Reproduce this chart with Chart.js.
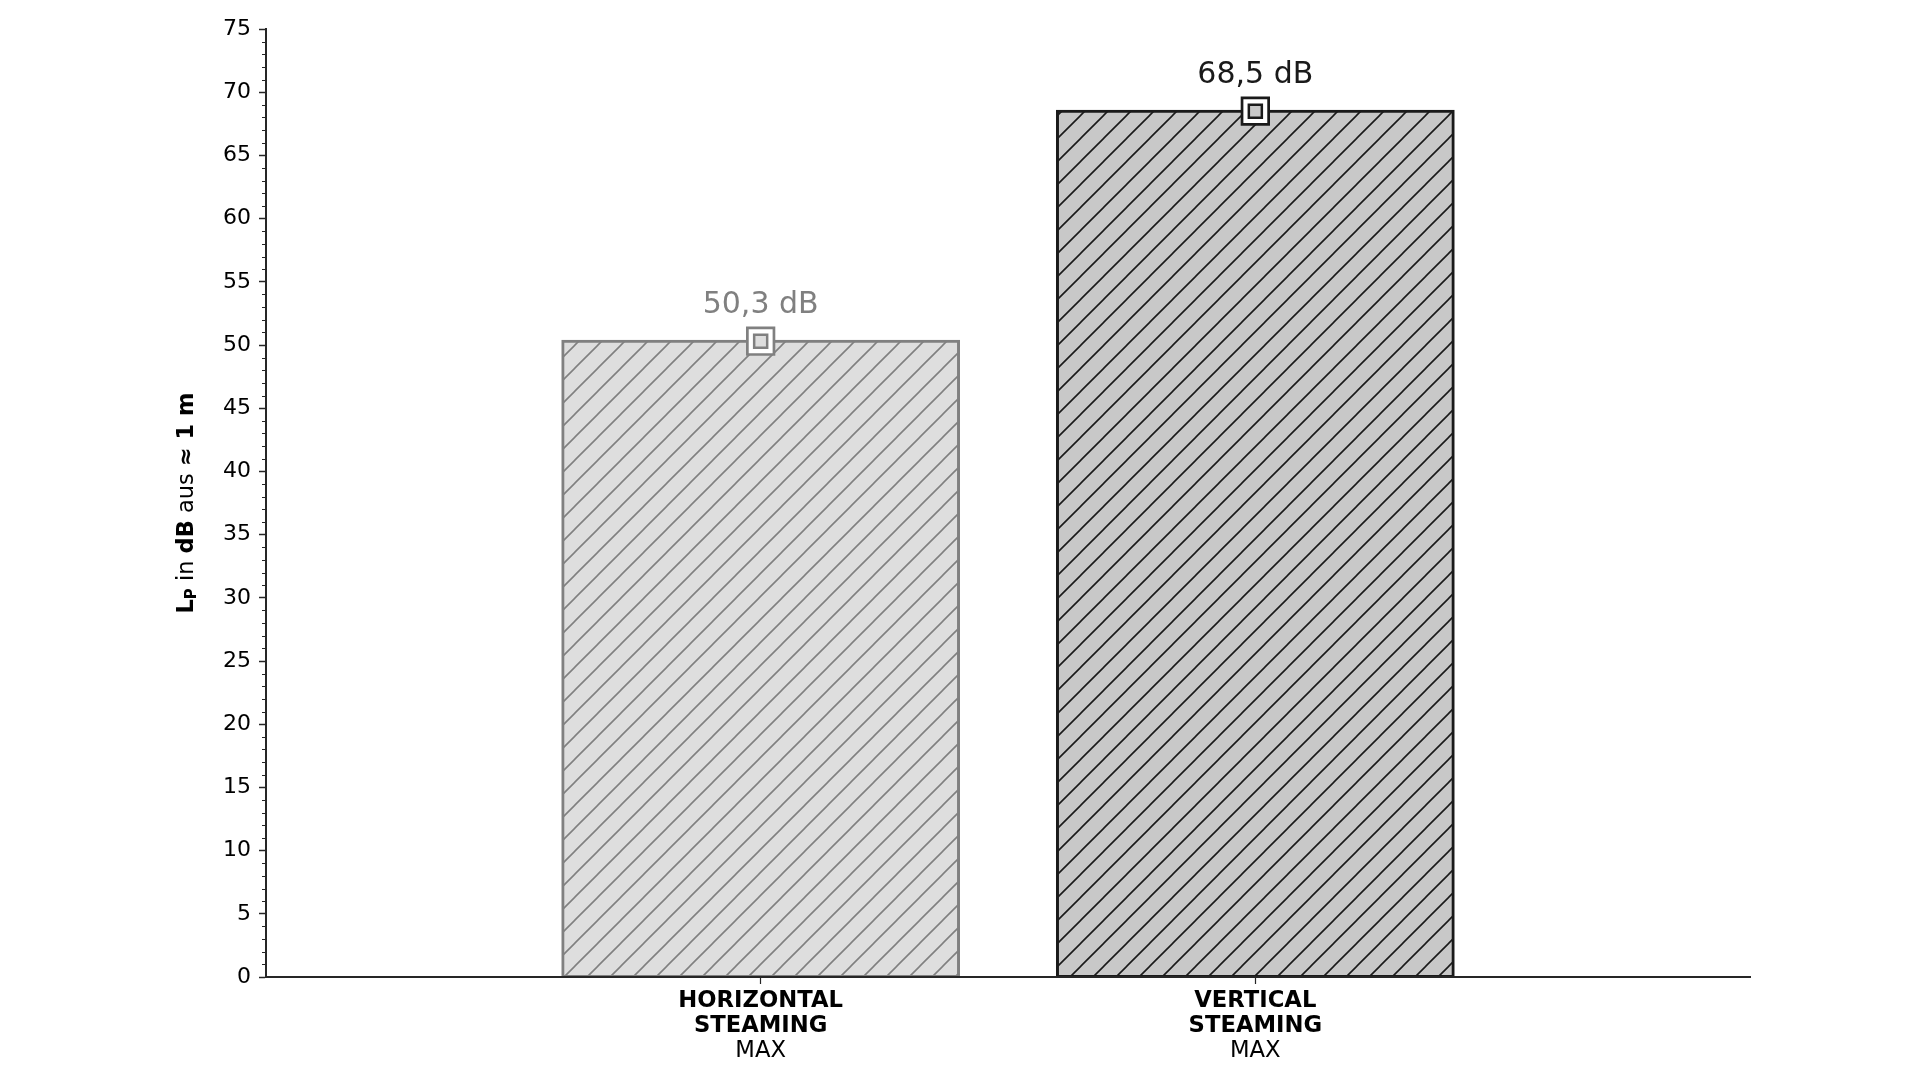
<!DOCTYPE html>
<html>
<head>
<meta charset="utf-8">
<style>
  html, body { margin: 0; padding: 0; background: #fff; }
  #chart { display: block; }
</style>
<script src="https://cdn.jsdelivr.net/npm/chart.js@4.4.1/dist/chart.umd.min.js"></script>
</head>
<body>
<canvas id="chart" width="1920" height="1080"></canvas>
<script>
'use strict';

// data
var categories = [['HORIZONTAL', 'STEAMING'], ['VERTICAL', 'STEAMING']];
var subLabels = ['MAX', 'MAX'];
var levels = [50.3, 68.5];
var valueLabels = ['50,3 dB', '68,5 dB'];
var yTicks = [0, 5, 10, 15, 20, 25, 30, 35, 40, 45, 50, 55, 60, 65, 70, 75];

var fills = ['#dedede', '#c8c8c8'];
var edges = ['#808080', '#1a1a1a'];
var axisColor = '#262626';
var FONT = "'DejaVu Sans', sans-serif";

Chart.defaults.font.family = FONT;

function hatch(bg, fg) {
    var s = 23;
    var c = document.createElement('canvas');
    c.width = s; c.height = s;
    var g = c.getContext('2d');
    g.fillStyle = bg;
    g.fillRect(0, 0, s, s);
    g.strokeStyle = fg;
    g.lineWidth = 1.6;
    g.beginPath();
    g.moveTo(-1, s + 1); g.lineTo(s + 1, -1);
    g.moveTo(-1, 1); g.lineTo(1, -1);
    g.moveTo(s - 1, s + 1); g.lineTo(s + 1, s - 1);
    g.stroke();
    return document.getElementById('chart').getContext('2d').createPattern(c, 'repeat');
}

// empty slot on both sides so the axis runs one category past each bar
var labels = [''].concat(categories.map(c => c.join(' '))).concat(['']);
var padded = arr => [null].concat(arr).concat([null]);

var annotate = {
    id: 'annotate',
    afterDraw(chart) {
        var ctx = chart.ctx;
        var xs = chart.scales.x, ys = chart.scales.y;
        ctx.save();

        // minor ticks on the y axis
        ctx.strokeStyle = axisColor;
        ctx.lineWidth = 1.2;
        ctx.beginPath();
        for (var v = 0; v <= 75; v++) {
            if (v % 5 === 0) continue;
            var py = Math.round(ys.getPixelForValue(v)) + 0.5;
            ctx.moveTo(ys.right - 4, py);
            ctx.lineTo(ys.right, py);
        }
        ctx.stroke();

        // value labels above the bars
        ctx.textAlign = 'center';
        ctx.textBaseline = 'alphabetic';
        ctx.font = '30px ' + FONT;
        levels.forEach((val, i) => {
            var px = xs.getPixelForValue(i + 1);
            var py = ys.getPixelForValue(val);
            ctx.fillStyle = edges[i];
            ctx.fillText(valueLabels[i], px, py - 28);
        });

        // category labels: bold name lines + regular sub label
        categories.forEach((lines, i) => {
            var px = xs.getPixelForValue(i + 1);
            var base = 1007;
            ctx.fillStyle = '#000';
            ctx.font = 'bold 22.7px ' + FONT;
            lines.forEach((t, k) => ctx.fillText(t, px, base + k * 25));
            ctx.font = '22.7px ' + FONT;
            ctx.fillText(subLabels[i], px, base + lines.length * 25);
        });

        // y axis title with mixed weights
        var parts = [
            { t: 'L', f: 'bold 22.5px ', dy: 0 },
            { t: 'P', f: 'bold 15px ', dy: 3 },
            { t: ' in ', f: '22.5px ', dy: 0 },
            { t: 'dB', f: 'bold 22.5px ', dy: 0 },
            { t: ' aus ', f: '22.5px ', dy: 0 },
            { t: '\u2248 1 m', f: 'bold 22.5px ', dy: 0 }
        ];
        var total = 0;
        parts.forEach(p => { ctx.font = p.f + FONT; p.w = ctx.measureText(p.t).width; total += p.w; });
        ctx.translate(193, (ys.top + ys.bottom) / 2);
        ctx.rotate(-Math.PI / 2);
        ctx.textAlign = 'left';
        var x = -total / 2;
        parts.forEach(p => {
            ctx.font = p.f + FONT;
            ctx.fillText(p.t, x, p.dy);
            x += p.w;
        });
        ctx.restore();
    }
};

new Chart(document.getElementById('chart'), {
    type: 'bar',
    data: {
        labels: labels,
        datasets: [
            {
                type: 'line',
                data: padded(levels),
                showLine: false,
                pointStyle: 'rect',
                pointRadius: 9.2,
                pointBorderWidth: 2.5,
                pointBackgroundColor: padded(fills),
                pointBorderColor: padded(edges),
                order: 0
            },
            {
                type: 'line',
                data: padded(levels),
                showLine: false,
                pointStyle: 'rect',
                pointRadius: 18.8,
                pointBorderWidth: 2.7,
                pointBackgroundColor: '#ffffff',
                pointBorderColor: padded(edges),
                order: 1
            },
            {
                data: padded(levels),
                backgroundColor: padded(fills.map((f, i) => hatch(f, edges[i]))),
                borderColor: padded(edges),
                borderWidth: 3,
                borderSkipped: false,
                inflateAmount: 1.5,
                categoryPercentage: 0.8,
                barPercentage: 1.0,
                order: 2
            }
        ]
    },
    options: {
        responsive: false,
        animation: false,
        devicePixelRatio: 1,
        layout: { padding: { top: 29, right: 170, left: 0, bottom: 0 } },
        plugins: {
            legend: { display: false },
            tooltip: { enabled: false }
        },
        scales: {
            x: {
                offset: false,
                grid: {
                    offset: false,
                    drawOnChartArea: false,
                    drawTicks: true,
                    tickLength: 7,
                    tickColor: axisColor,
                    tickWidth: 1.2
                },
                border: { color: axisColor, width: 2, z: 1 },
                ticks: { display: false },
                afterBuildTicks(scale) {
                    scale.ticks = scale.ticks.filter(t => t.value >= 1 && t.value <= categories.length);
                },
                afterFit(scale) { scale.height = 103; }
            },
            y: {
                min: 0,
                max: 75,
                afterBuildTicks(scale) {
                    scale.ticks = yTicks.map(v => ({ value: v }));
                },
                grid: {
                    drawOnChartArea: false,
                    tickLength: 7,
                    tickColor: axisColor,
                    tickWidth: 1.5
                },
                border: { color: axisColor, width: 2 },
                ticks: {
                    color: '#000',
                    padding: 8,
                    font: { size: 22, family: FONT }
                },
                afterFit(scale) { scale.width = 266; }
            }
        }
    },
    plugins: [annotate]
});
</script>
</body>
</html>
